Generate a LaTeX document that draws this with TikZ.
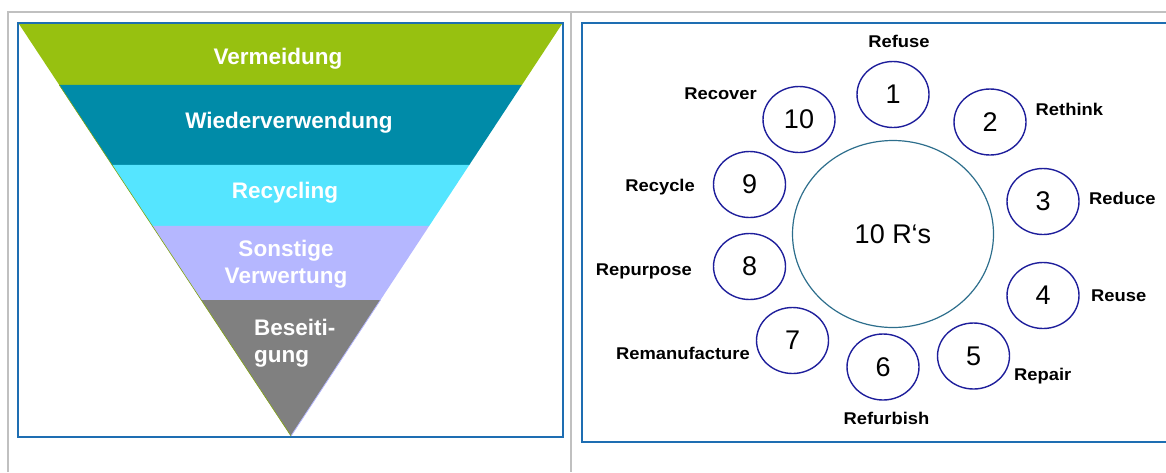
\documentclass[tikz,border=0pt]{standalone}
\usepackage{fontspec}
\setmainfont{Liberation Sans}
\newfontfamily\rfont[FakeStretch=1.08]{Liberation Sans}
\usetikzlibrary{calc,shapes.geometric}

\definecolor{vgreen}{RGB}{151,193,16}
\definecolor{vteal}{RGB}{0,139,168}
\definecolor{vcyan}{RGB}{85,229,255}
\definecolor{vlav}{RGB}{181,183,255}
\definecolor{vgrey}{RGB}{128,128,128}
\definecolor{framegrey}{RGB}{192,192,192}
\definecolor{boxblue}{RGB}{30,110,178}
\definecolor{rnavy}{RGB}{30,30,155}
\definecolor{rteal}{RGB}{45,110,140}

\begin{document}
\begin{tikzpicture}[x=1pt,y=-1pt,
  band/.style={font=\fontsize{22.5}{27.5}\selectfont\bfseries,text=white,inner sep=0pt},
  rnum/.style={ellipse,draw=rnavy,line width=1.4pt,minimum width=72pt,minimum height=66pt,
    inner sep=0pt,font=\fontsize{27}{30}\selectfont},
  rlab/.style={font=\rfont\fontsize{17}{20}\selectfont\bfseries,inner sep=0pt},
  panel/.style={draw=boxblue,line width=2pt}]

\useasboundingbox (0,0) rectangle (1166,472);

% table lines
\draw [framegrey,line width=2pt] (8,472) -- (8,12) -- (1166,12);
\draw [framegrey,line width=2pt] (570.5,12) -- (570.5,472);

% left panel: waste hierarchy
\draw [panel] (18,23) rectangle (562.5,437);

\coordinate (tl) at (19,24);
\coordinate (tr) at (562,24);
\coordinate (ap) at (291,436);

\fill [vgreen] (tl) -- (tr) -- ($(tr)!0.148!(ap)$) -- ($(tl)!0.148!(ap)$) -- cycle;
\fill [vteal] ($(tl)!0.148!(ap)$) -- ($(tr)!0.148!(ap)$) -- ($(tr)!0.342!(ap)$) -- ($(tl)!0.342!(ap)$) -- cycle;
\fill [vcyan] ($(tl)!0.342!(ap)$) -- ($(tr)!0.342!(ap)$) -- ($(tr)!0.490!(ap)$) -- ($(tl)!0.490!(ap)$) -- cycle;
\fill [vlav] ($(tl)!0.490!(ap)$) -- ($(tr)!0.490!(ap)$) -- ($(tr)!0.670!(ap)$) -- ($(tl)!0.670!(ap)$) -- cycle;
\fill [vgrey] ($(tl)!0.670!(ap)$) -- ($(tr)!0.670!(ap)$) -- (ap) -- cycle;

\draw [vgreen!85!black,line width=0.6pt] ($(tl)!0.148!(ap)$) -- (ap);
\draw [vlav,line width=0.8pt] ($(tr)!0.670!(ap)$) -- (ap);

\node [band] (verm) at (278,58.5) {Vermeidung};
\node [band] (wied) at (289,122.5) {Wiederverwendung};
\node [band] (recy) at (285,192.5) {Recycling};
\node [band,align=center] (sonst) at (286,264) {Sonstige\\Verwertung};
\node [band,align=left,anchor=west] (beseit) at (254,343) {Beseiti-\\gung};

% right panel: 10 R's
\draw [panel] (1170,23) -- (582,23) -- (582,441.5) -- (1170,441.5);

\node [ellipse,draw=rteal,line width=1.2pt,minimum width=201pt,minimum height=187pt,
  font=\fontsize{27}{30}\selectfont] (ten) at (893,234) {10 R‘s};

\node [rnum] (r1) at (893,94.5) {1};
\node [rnum] (r2) at (990,122) {2};
\node [rnum] (r3) at (1043,201.5) {3};
\node [rnum] (r4) at (1043,295.5) {4};
\node [rnum] (r5) at (973.5,356) {5};
\node [rnum] (r6) at (883,367) {6};
\node [rnum] (r7) at (792.5,340.5) {7};
\node [rnum] (r8) at (749.5,266.5) {8};
\node [rnum] (r9) at (749.5,184.5) {9};
\node [rnum] (r10) at (799,119.5) {10};

\node [rlab] (l1) at (899,41) {Refuse};
\node [rlab,anchor=west] (l2) at (1035.5,109.5) {Rethink};
\node [rlab,anchor=west] (l3) at (1089,198) {Reduce};
\node [rlab,anchor=west] (l4) at (1091,296) {Reuse};
\node [rlab,anchor=west] (l5) at (1014,376) {Repair};
\node [rlab] (l6) at (886.5,418) {Refurbish};
\node [rlab,anchor=east] (l7) at (750,353) {Remanufacture};
\node [rlab,anchor=east] (l8) at (692,271) {Repurpose};
\node [rlab,anchor=east] (l9) at (695,187) {Recycle};
\node [rlab,anchor=east] (l10) at (757,94) {Recover};

\end{tikzpicture}
\end{document}
